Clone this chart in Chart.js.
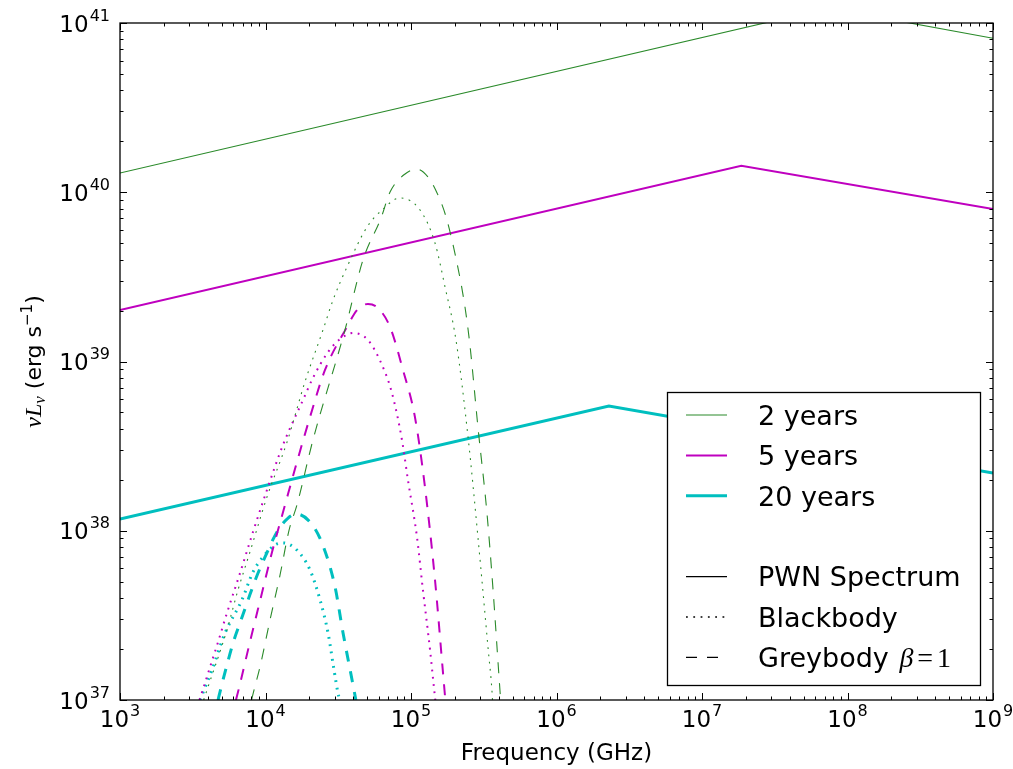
<!DOCTYPE html>
<html><head><meta charset="utf-8">
<script src="https://cdn.jsdelivr.net/npm/chart.js@4.4.1/dist/chart.umd.min.js"></script>
<style>html,body{margin:0;padding:0;background:#fff;}canvas{display:block;}</style>
</head><body>
<canvas id="c" width="1013" height="769"></canvas>
<script>
// ---- tick labels (decade exponents) ----
const xTickExps = [3, 4, 5, 6, 7, 8, 9];
const yTickExps = [37, 38, 39, 40, 41];

// ---- legend labels ----
const ageLabels = ['2 years', '5 years', '20 years'];
const styleLabels = ['PWN Spectrum', 'Blackbody', 'Greybody'];

// ---- values, stored as log10(frequency / GHz) and log10(nu L_nu / erg s^-1) ----
// PWN spectra (broken power laws)
const pwn2LogNu = [3, 7.87, 9];
const pwn2LogL  = [40.114, 41.088, 40.91];
const pwn5LogNu = [3, 7.27, 9];
const pwn5LogL  = [39.304, 40.157, 39.901];
const pwn20LogNu = [3, 6.36, 9];
const pwn20LogL  = [38.069, 38.737, 38.341];

// Blackbody, 2 years
const bb2LogNu = [3.575, 3.598, 3.735, 3.811, 3.893, 4.010, 4.148, 4.271, 4.395, 4.464, 4.560, 4.698, 4.801, 4.924, 5.062, 5.165, 5.234, 5.309, 5.392, 5.460, 5.529, 5.557, 5.560];
const bb2LogL  = [37.0, 37.059, 37.414, 37.650, 37.874, 38.199, 38.524, 38.879, 39.186, 39.363, 39.558, 39.795, 39.895, 39.966, 39.895, 39.700, 39.440, 39.127, 38.554, 37.963, 37.313, 37.047, 37.0];
// Greybody, 2 years
const gb2LogNu = [3.904, 3.921, 3.962, 4.031, 4.100, 4.162, 4.216, 4.326, 4.546, 4.670, 4.794, 4.856, 4.959, 5.041, 5.117, 5.179, 5.241, 5.316, 5.371, 5.405, 5.460, 5.522, 5.564, 5.605, 5.616];
const gb2LogL  = [37.0, 37.059, 37.195, 37.473, 37.739, 38.004, 38.152, 38.536, 39.186, 39.600, 39.848, 40.001, 40.108, 40.137, 40.090, 39.996, 39.854, 39.582, 39.322, 39.097, 38.613, 38.105, 37.650, 37.136, 37.0];

// Blackbody, 5 years
const bb5LogNu = [3.546, 3.564, 3.619, 3.674, 3.735, 3.825, 3.914, 4.010, 4.120, 4.258, 4.326, 4.430, 4.505, 4.601, 4.704, 4.801, 4.869, 4.938, 4.979, 5.041, 5.082, 5.131, 5.158, 5.167];
const bb5LogL  = [37.0, 37.047, 37.195, 37.343, 37.514, 37.750, 37.993, 38.241, 38.507, 38.773, 38.903, 39.056, 39.127, 39.168, 39.127, 38.979, 38.814, 38.536, 38.300, 37.963, 37.650, 37.295, 37.071, 37.0];
// Greybody, 5 years
const gb5LogNu = [3.797, 3.818, 3.893, 3.969, 4.045, 4.134, 4.216, 4.306, 4.409, 4.560, 4.629, 4.704, 4.773, 4.856, 4.945, 5.027, 5.096, 5.165, 5.220, 5.236];
const gb5LogL  = [37.0, 37.071, 37.343, 37.609, 37.874, 38.152, 38.406, 38.672, 38.950, 39.204, 39.304, 39.340, 39.316, 39.204, 38.950, 38.672, 38.258, 37.709, 37.160, 37.0];

// Blackbody, 20 years
const bb20LogNu = [3.550, 3.564, 3.632, 3.722, 3.838, 3.914, 3.983, 4.065, 4.120, 4.216, 4.306, 4.375, 4.430, 4.471, 4.498, 4.510];
const bb20LogL  = [37.0, 37.030, 37.177, 37.396, 37.591, 37.756, 37.845, 37.916, 37.928, 37.886, 37.768, 37.591, 37.396, 37.177, 37.041, 37.0];
// Greybody, 20 years
const gb20LogNu = [3.674, 3.694, 3.735, 3.777, 3.832, 3.880, 3.935, 3.997, 4.079, 4.155, 4.210, 4.306, 4.388, 4.478, 4.533, 4.595, 4.621];
const gb20LogL  = [37.0, 37.071, 37.207, 37.337, 37.473, 37.591, 37.721, 37.845, 37.993, 38.075, 38.099, 38.052, 37.928, 37.668, 37.396, 37.118, 37.0];

// ---- styles ----
const GREEN = '#2a8a2a', MAGENTA = '#bf00bf', CYAN = '#00bfbf';
const ageColors = [GREEN, MAGENTA, CYAN];
const ageWidths = [1.1, 2, 3];
const DASH = [11, 10];
const DOT = [1.8, 5.5];

function pts(lx, ly) { return lx.map((v, i) => ({ x: Math.pow(10, v), y: Math.pow(10, ly[i]) })); }
function ds(lx, ly, age, dash) {
  return {
    data: pts(lx, ly), borderColor: ageColors[age], borderWidth: ageWidths[age],
    borderDash: dash, showLine: true, pointRadius: 0, fill: false, clip: 0,
    cubicInterpolationMode: dash.length ? 'monotone' : 'default', tension: 0
  };
}

const datasets = [
  ds(pwn2LogNu, pwn2LogL, 0, []), ds(bb2LogNu, bb2LogL, 0, DOT), ds(gb2LogNu, gb2LogL, 0, DASH),
  ds(pwn5LogNu, pwn5LogL, 1, []), ds(bb5LogNu, bb5LogL, 1, DOT), ds(gb5LogNu, gb5LogL, 1, DASH),
  ds(pwn20LogNu, pwn20LogL, 2, []), ds(bb20LogNu, bb20LogL, 2, DOT), ds(gb20LogNu, gb20LogL, 2, DASH)
];

const SANS = '"DejaVu Sans", sans-serif';
const SERIF = '"Liberation Serif", "DejaVu Serif", serif';

function drawPow(ctx, exp, x, baseline, align) {
  ctx.font = '23px ' + SANS;
  const w1 = ctx.measureText('10').width;
  ctx.font = '16px ' + SANS;
  const w2 = ctx.measureText(String(exp)).width;
  const tot = w1 + w2 + 1;
  let x0 = align === 'right' ? x - tot : x - tot / 2;
  ctx.font = '23px ' + SANS;
  ctx.fillText('10', x0, baseline);
  ctx.font = '16px ' + SANS;
  ctx.fillText(String(exp), x0 + w1 + 1, baseline - 11);
}

function drawRuns(ctx, runs, x, y) {
  // runs: [{t, font, dy}] -> returns total width if x is null
  let w = 0;
  for (const r of runs) { ctx.font = r.font; w += ctx.measureText(r.t).width + (r.gap || 0); }
  let cx = x - w / 2;
  for (const r of runs) {
    ctx.font = r.font;
    ctx.fillText(r.t, cx, y + (r.dy || 0));
    cx += ctx.measureText(r.t).width + (r.gap || 0);
  }
  return w;
}

const framePlugin = {
  id: 'framePlugin',
  afterDraw(chart) {
    const { ctx, chartArea: a, scales: { x, y } } = chart;
    ctx.save();
    ctx.strokeStyle = '#000';
    ctx.lineWidth = 1;
    const line = (x1, y1, x2, y2) => { ctx.beginPath(); ctx.moveTo(x1, y1); ctx.lineTo(x2, y2); ctx.stroke(); };
    // x ticks (inside, top and bottom)
    for (const e of xTickExps) {
      for (let m = 1; m <= 9; m++) {
        const v = m * Math.pow(10, e);
        if (v > x.max * 1.0001) break;
        const px = Math.round(x.getPixelForValue(v)) + 0.5;
        const len = m === 1 ? 7 : 3.5;
        line(px, a.bottom, px, a.bottom - len);
        line(px, a.top, px, a.top + len);
      }
    }
    for (const e of yTickExps) {
      for (let m = 1; m <= 9; m++) {
        const v = m * Math.pow(10, e);
        if (v > y.max * 1.0001) break;
        const py = Math.round(y.getPixelForValue(v)) + 0.5;
        const len = m === 1 ? 7 : 3.5;
        line(a.left, py, a.left + len, py);
        line(a.right, py, a.right - len, py);
      }
    }
    ctx.lineWidth = 1.3;
    ctx.strokeRect(a.left, a.top, a.right - a.left, a.bottom - a.top);

    // tick labels
    ctx.fillStyle = '#000';
    ctx.textBaseline = 'alphabetic';
    ctx.textAlign = 'left';
    for (const e of xTickExps) {
      const px = x.getPixelForValue(Math.pow(10, e));
      drawPow(ctx, e, px, a.bottom + 27, 'center');
    }
    for (const e of yTickExps) {
      const py = y.getPixelForValue(Math.pow(10, e));
      drawPow(ctx, e, a.left - 10, py + 8.5, 'right');
    }

    // x title
    ctx.font = '23px ' + SANS;
    ctx.textAlign = 'center';
    ctx.fillText('Frequency (GHz)', (a.left + a.right) / 2, 760);
    ctx.textAlign = 'left';

    // y title (rotated)
    ctx.save();
    ctx.translate(33, (a.top + a.bottom) / 2);
    ctx.rotate(-Math.PI / 2);
    drawRuns(ctx, [
      { t: 'ν', font: 'italic 24px ' + SERIF },
      { t: 'L', font: 'italic 24px ' + SERIF },
      { t: 'ν', font: 'italic 17px ' + SERIF, dy: 4 },
      { t: ' (erg s', font: '22px ' + SANS },
      { t: '−1', font: '15px ' + SANS, dy: -9 },
      { t: ')', font: '22px ' + SANS }
    ], 0, 8);
    ctx.restore();
    ctx.restore();
  }
};

const legendPlugin = {
  id: 'legendPlugin',
  afterDatasetsDraw(chart) {
    const { ctx } = chart;
    ctx.save();
    const bx = 667, by = 392, bw = 313, bh = 293;
    ctx.fillStyle = '#fff';
    ctx.fillRect(bx, by, bw, bh);
    ctx.strokeStyle = '#000';
    ctx.lineWidth = 1.3;
    ctx.strokeRect(bx + 0.5, by + 0.5, bw, bh);
    const rows = [415, 455.4, 495.8, 536.2, 576.6, 617, 657.4];
    const lx1 = 686, lx2 = 727, tx = 758;
    const sample = (y, color, w, dash) => {
      ctx.strokeStyle = color; ctx.lineWidth = w; ctx.setLineDash(dash);
      ctx.beginPath(); ctx.moveTo(lx1, y); ctx.lineTo(lx2, y); ctx.stroke();
      ctx.setLineDash([]);
    };
    ctx.fillStyle = '#000';
    ctx.textBaseline = 'alphabetic';
    ctx.textAlign = 'left';
    for (let i = 0; i < 3; i++) {
      sample(rows[i], ageColors[i], ageWidths[i], []);
      ctx.font = '27px ' + SANS;
      ctx.fillText(ageLabels[i], tx, rows[i] + 9.8);
    }
    const styleDash = [[], DOT, DASH];
    for (let i = 0; i < 3; i++) {
      const r = rows[4 + i];
      sample(r, '#000', 1.3, styleDash[i]);
      ctx.font = '27px ' + SANS;
      ctx.fillText(styleLabels[i], tx, r + 9.8);
      if (i === 2) {
        let cx = tx + ctx.measureText(styleLabels[i] + ' ').width + 2;
        ctx.font = 'italic 28px ' + SERIF;
        ctx.fillText('β', cx, r + 9.8);
        cx += ctx.measureText('β').width + 4;
        ctx.font = '28px ' + SERIF;
        ctx.fillText('=', cx, r + 9.8);
        cx += ctx.measureText('=').width + 4;
        ctx.fillText('1', cx, r + 9.8);
      }
    }
    ctx.restore();
  }
};

new Chart(document.getElementById('c'), {
  type: 'scatter',
  data: { datasets },
  options: {
    responsive: false,
    animation: false,
    devicePixelRatio: 1,
    layout: { padding: { left: 0, right: 20, top: 23, bottom: 0 } },
    plugins: { legend: { display: false }, tooltip: { enabled: false } },
    scales: {
      x: {
        type: 'logarithmic', min: 1e3, max: 1e9,
        grid: { display: false }, border: { display: false }, ticks: { display: false },
        afterFit(s) { s.height = 69; }
      },
      y: {
        type: 'logarithmic', min: 1e37, max: 1e41,
        grid: { display: false }, border: { display: false }, ticks: { display: false },
        afterFit(s) { s.width = 120; }
      }
    }
  },
  plugins: [legendPlugin, framePlugin]
});
</script>
</body></html>
